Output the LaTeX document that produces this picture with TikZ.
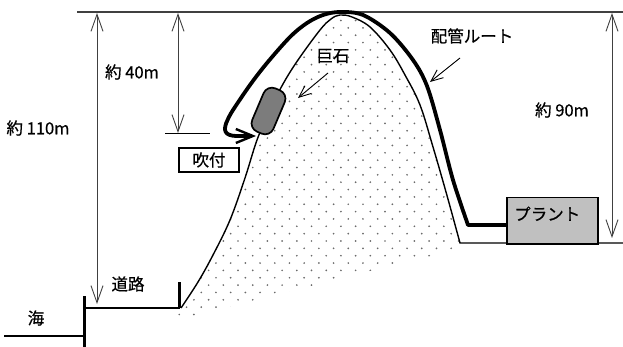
\documentclass[tikz,border=0pt]{standalone}
\usepackage{fontspec}
\newfontfamily\jpfont[FakeBold=0.6]{Noto Sans CJK JP}
\usetikzlibrary{arrows.meta}
\definecolor{dotgray}{HTML}{6A6A6A}
\definecolor{rockgray}{HTML}{7C7C7C}
\definecolor{plantgray}{HTML}{C0C0C0}
\begin{document}
\begin{tikzpicture}[x=1pt,y=-1pt,
  txt/.style={font=\jpfont\fontsize{16.5}{19}\selectfont, inner sep=0pt},
  dim/.style={draw=black!75, line width=0.9pt,
    {Straight Barb[length=17pt,width=12pt]}-{Straight Barb[length=17pt,width=12pt]}},
  lblarrow/.style={draw=black, line width=0.9pt, -{Straight Barb[length=12pt,width=10pt]}},
  ridge/.style={draw=black, line width=1.4pt},
  pipe/.style={draw=black, line width=3.8pt, line join=round,
    -{Straight Barb[length=17pt,width=14pt,line width=2.4pt]}},
  heavy/.style={draw=black, line width=3pt},
  boxed/.style={txt, draw=black, line width=1.5pt}]
\useasboundingbox (0,0) rectangle (623,347);

% dotted fill of the hill
\begin{scope}
  \clip plot[smooth, tension=0.6] coordinates {(181,308) (198,282) (213,255) (230,220) (245,178)
      (257,140) (270,110) (283,84) (298,60) (320,30) (331,19) (340,15) (352,17) (370,27)
      (390,50) (405,75) (420,105) (433,147) (446,192) (460,243)}
    -- (470,246) -- (176,320) -- cycle;
  \foreach \k in {0,...,44} {
    \pgfmathsetmacro{\off}{7.35*(1-mod(\k,2))}
    \foreach \m in {0,...,20}
      \fill[dotgray] (179.2+\off+14.7*\m, 13.15+7.35*\k) circle (0.95pt);
  }
\end{scope}

% hill outline and ground to the right
\draw[ridge] plot[smooth, tension=0.6] coordinates {(181,308) (198,282) (213,255) (230,220) (245,178)
    (257,140) (270,110) (283,84) (298,60) (320,30) (331,19) (340,15) (352,17) (370,27)
    (390,50) (405,75) (420,105) (433,147) (446,192) (460,243)} -- (623,243);

% top reference line
\draw[draw=black!75, line width=1.2pt] (77,12) -- (623,12);

% road and sea wall
\draw[draw=black, line width=1.6pt] (84,308) -- (180,308);
\draw[heavy] (84,296) -- (84,347);
\draw[heavy] (179,282) -- (179,308);
\draw[draw=black, line width=1.2pt] (4,336) -- (84,336);

% boulder
\node (rock) [draw=black, line width=1.7pt, fill=rockgray, rounded corners=9pt,
  minimum width=23pt, minimum height=47pt, inner sep=0pt, rotate=-23] at (268.5,111) {};

% plant
\node (plant) [draw=black, line width=1.5pt, fill=plantgray, minimum width=91pt,
  minimum height=46pt, inner sep=0pt, anchor=north west,
  label={[txt, shift={(-5pt,7pt)}]center:プラント}] at (506,197) {};

% pipe route
\coordinate (pipeStart) at (506,225);
\coordinate (sprayTip) at (256,136);
\draw[pipe] (pipeStart) -- plot[smooth, tension=0.55] coordinates {(468,225) (453,180) (440,130)
    (427,86) (413,60) (390,33) (363,15) (340,12) (323,15) (307,23) (290,37) (267,63)
    (250,85) (233,110) (228,119)}
  .. controls (222,131) and (225,135.5) .. (236,136) -- (sprayTip);

% dimension arrows
\coordinate (t110) at (97,13);
\coordinate (b110) at (97,304);
\coordinate (t40) at (178,13);
\coordinate (b40) at (178,133);
\coordinate (t90) at (612,13);
\coordinate (b90) at (612,238);
\draw[dim] (t110) -- (b110);
\draw[dim] (t40) -- (b40);
\draw[dim] (t90) -- (b90);
\draw[draw=black, line width=1pt] (165,134) -- (210,134);

% labels
\node[txt] (l110) at (38,128) {約 110m};
\node[txt] (l40) at (132,72) {約 40m};
\node[txt] (l90) at (562,110) {約 90m};
\node[txt] (road) at (128,284) {道路};
\node[txt] (sea) at (36,318) {海};
\node[boxed, minimum width=60pt, minimum height=24pt] (spray) at (209,160) {吹付};
\node[txt] (rocklbl) at (333,56) {巨石};
\node[txt] (pipelbl) at (472,36) {配管ルート};

% leader arrows
\coordinate (rockFrom) at (328,73);
\coordinate (rockTo) at (298,98);
\coordinate (pipeFrom) at (460,58);
\coordinate (pipeTo) at (430,82);
\draw[lblarrow] (rockFrom) -- (rockTo);
\draw[lblarrow] (pipeFrom) -- (pipeTo);
\end{tikzpicture}
\end{document}
